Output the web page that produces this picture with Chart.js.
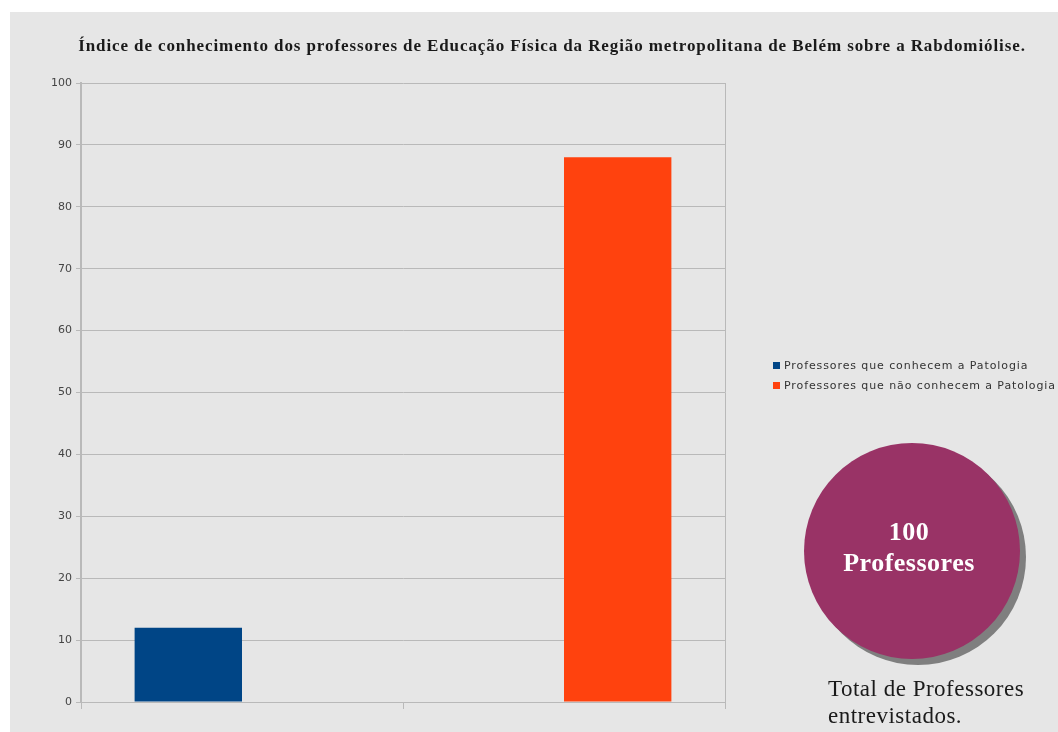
<!DOCTYPE html>
<html>
<head>
<meta charset="utf-8">
<script src="https://cdn.jsdelivr.net/npm/chart.js@4/dist/chart.umd.min.js"></script>
<style>
  html, body { margin: 0; padding: 0; background: #ffffff; }
  #wrap { width: 1058px; height: 732px; }
</style>
</head>
<body>
<div id="wrap"><canvas id="myChart"></canvas></div>
<script>
const categorias = ["", ""];
const conhecem = [12, null];
const naoConhecem = [null, 88];
const rotulosSeries = [
  "Professores que conhecem a Patologia",
  "Professores que não conhecem a Patologia",
];
const titulo =
  "Índice de conhecimento dos professores de Educação Física da Região metropolitana de Belém sobre a Rabdomiólise.";
const rodape = ["Total de Professores", "entrevistados."];

const AZUL = "#004586";
const LARANJA = "#ff420e";
const GRADE = "#b9b9b9";

// painel cinza, título, legenda e o círculo com o total
const extras = {
  id: "extras",
  beforeDraw(chart) {
    const c = chart.ctx;
    c.save();
    c.fillStyle = "#e6e6e6";
    c.fillRect(10, 12, chart.width - 10, chart.height - 12);
    c.restore();
  },
  afterDraw(chart) {
    const c = chart.ctx;
    c.save();

    c.fillStyle = "#1a1a1a";
    c.font = "bold 17px 'Liberation Serif'";
    c.letterSpacing = "0.9px";
    c.textAlign = "center";
    c.textBaseline = "middle";
    c.fillText(titulo, 552, 47);

    // legenda
    c.font = "11px 'DejaVu Sans'";
    c.letterSpacing = "0.9px";
    c.textAlign = "left";
    chart.data.datasets.forEach((ds, i) => {
      const y = 366 + i * 20;
      c.fillStyle = ds.backgroundColor;
      c.fillRect(773, y - 4, 7, 7);
      c.fillStyle = "#333333";
      c.fillText(ds.label, 784, y);
    });

    // círculo
    const total = chart.data.datasets.reduce(
      (s, ds) => s + ds.data.reduce((a, v) => a + (v || 0), 0), 0);
    c.fillStyle = "#7f7f7f";
    c.beginPath();
    c.arc(918, 557, 108, 0, Math.PI * 2);
    c.fill();
    c.fillStyle = "#993366";
    c.beginPath();
    c.arc(912, 551, 108, 0, Math.PI * 2);
    c.fill();

    c.fillStyle = "#ffffff";
    c.font = "bold 26px 'Liberation Serif'";
    c.letterSpacing = "0.5px";
    c.textAlign = "center";
    c.fillText(String(total), 909, 533);
    c.fillText("Professores", 909, 564);

    c.fillStyle = "#1a1a1a";
    c.font = "23px 'Liberation Serif'";
    c.letterSpacing = "0.5px";
    c.textAlign = "left";
    c.fillText(rodape[0], 828, 690);
    c.fillText(rodape[1], 828, 717);
    c.restore();
  },
};

const ctx = document.getElementById("myChart");

new Chart(ctx, {
  type: "bar",
  data: {
    labels: categorias,
    datasets: [
      {
        label: rotulosSeries[0],
        data: conhecem,
        backgroundColor: AZUL,
        borderWidth: 0,
      },
      {
        label: rotulosSeries[1],
        data: naoConhecem,
        backgroundColor: LARANJA,
        borderWidth: 0,
      },
    ],
  },
  options: {
    responsive: true,
    maintainAspectRatio: false,
    animation: false,
    categoryPercentage: 0.667,
    barPercentage: 1,
    layout: {
      padding: { left: 46, right: 333, top: 83, bottom: 0 },
    },
    plugins: {
      legend: { display: false },
      tooltip: { enabled: false },
      title: { display: false },
    },
    scales: {
      x: {
        offset: true,
        ticks: { display: false },
        border: { color: GRADE, width: 1 },
        grid: {
          offset: true,
          tickLength: 7,
          color: (c) => (c.index === 1 ? "transparent" : GRADE),
          tickColor: GRADE,
        },
        afterFit(scale) {
          scale.height = 30;
        },
      },
      y: {
        min: 0,
        max: 100,
        ticks: {
          stepSize: 10,
          padding: 4,
          color: "#444444",
          font: { family: "DejaVu Sans", size: 11 },
        },
        border: { color: GRADE, width: 2 },
        grid: {
          color: GRADE,
          tickLength: 5,
        },
        afterFit(scale) {
          scale.width = 35;
        },
      },
    },
  },
  plugins: [extras],
});
</script>
</body>
</html>
